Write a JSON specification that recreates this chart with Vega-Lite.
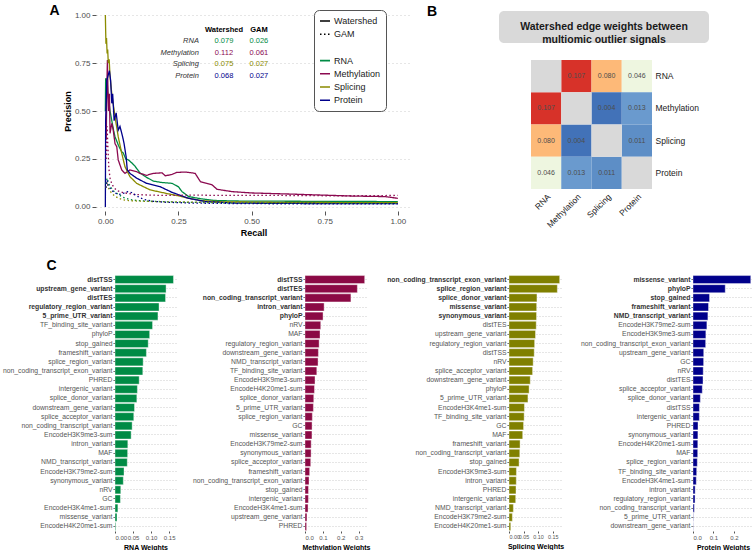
{
"$schema": "https://vega.github.io/schema/vega-lite/v6.json",
"padding": {"left": 1, "top": 3, "right": 0, "bottom": 0},
"config": {"font": "Liberation Sans", "view": {"stroke": null}, "title": {"fontSize": 14, "fontWeight": "bold", "color": "#000000"}},
"datasets": {
"curves": [
{"signal":"RNA","method":"Watershed","recall":0.0,"precision":0.5},{"signal":"RNA","method":"Watershed","recall":0.001,"precision":0.667},{"signal":"RNA","method":"Watershed","recall":0.006,"precision":0.667},{"signal":"RNA","method":"Watershed","recall":0.008,"precision":0.6},{"signal":"RNA","method":"Watershed","recall":0.012,"precision":0.55},{"signal":"RNA","method":"Watershed","recall":0.016,"precision":0.5},{"signal":"RNA","method":"Watershed","recall":0.022,"precision":0.45},{"signal":"RNA","method":"Watershed","recall":0.028,"precision":0.4},{"signal":"RNA","method":"Watershed","recall":0.033,"precision":0.366},{"signal":"RNA","method":"Watershed","recall":0.045,"precision":0.32},{"signal":"RNA","method":"Watershed","recall":0.055,"precision":0.29},{"signal":"RNA","method":"Watershed","recall":0.0615,"precision":0.28},{"signal":"RNA","method":"Watershed","recall":0.07,"precision":0.25},{"signal":"RNA","method":"Watershed","recall":0.079,"precision":0.245},{"signal":"RNA","method":"Watershed","recall":0.09,"precision":0.23},{"signal":"RNA","method":"Watershed","recall":0.1,"precision":0.215},{"signal":"RNA","method":"Watershed","recall":0.118,"precision":0.178},{"signal":"RNA","method":"Watershed","recall":0.14,"precision":0.155},{"signal":"RNA","method":"Watershed","recall":0.164,"precision":0.135},{"signal":"RNA","method":"Watershed","recall":0.19,"precision":0.128},{"signal":"RNA","method":"Watershed","recall":0.228,"precision":0.123},{"signal":"RNA","method":"Watershed","recall":0.25,"precision":0.105},{"signal":"RNA","method":"Watershed","recall":0.262,"precision":0.08},{"signal":"RNA","method":"Watershed","recall":0.285,"precision":0.054},{"signal":"RNA","method":"Watershed","recall":0.33,"precision":0.042},{"signal":"RNA","method":"Watershed","recall":0.37,"precision":0.034},{"signal":"RNA","method":"Watershed","recall":0.45,"precision":0.031},{"signal":"RNA","method":"Watershed","recall":0.6,"precision":0.03},{"signal":"RNA","method":"Watershed","recall":0.8,"precision":0.029},{"signal":"RNA","method":"Watershed","recall":1.0,"precision":0.028},
{"signal":"Methylation","method":"Watershed","recall":0.003,"precision":0.35},{"signal":"Methylation","method":"Watershed","recall":0.005,"precision":0.62},{"signal":"Methylation","method":"Watershed","recall":0.007,"precision":0.765},{"signal":"Methylation","method":"Watershed","recall":0.009,"precision":0.6},{"signal":"Methylation","method":"Watershed","recall":0.011,"precision":0.5},{"signal":"Methylation","method":"Watershed","recall":0.014,"precision":0.59},{"signal":"Methylation","method":"Watershed","recall":0.016,"precision":0.384},{"signal":"Methylation","method":"Watershed","recall":0.022,"precision":0.436},{"signal":"Methylation","method":"Watershed","recall":0.027,"precision":0.4},{"signal":"Methylation","method":"Watershed","recall":0.033,"precision":0.33},{"signal":"Methylation","method":"Watershed","recall":0.039,"precision":0.314},{"signal":"Methylation","method":"Watershed","recall":0.044,"precision":0.245},{"signal":"Methylation","method":"Watershed","recall":0.056,"precision":0.193},{"signal":"Methylation","method":"Watershed","recall":0.067,"precision":0.175},{"signal":"Methylation","method":"Watershed","recall":0.084,"precision":0.193},{"signal":"Methylation","method":"Watershed","recall":0.107,"precision":0.184},{"signal":"Methylation","method":"Watershed","recall":0.118,"precision":0.175},{"signal":"Methylation","method":"Watershed","recall":0.141,"precision":0.165},{"signal":"Methylation","method":"Watershed","recall":0.164,"precision":0.175},{"signal":"Methylation","method":"Watershed","recall":0.194,"precision":0.178},{"signal":"Methylation","method":"Watershed","recall":0.205,"precision":0.162},{"signal":"Methylation","method":"Watershed","recall":0.228,"precision":0.17},{"signal":"Methylation","method":"Watershed","recall":0.244,"precision":0.18},{"signal":"Methylation","method":"Watershed","recall":0.273,"precision":0.182},{"signal":"Methylation","method":"Watershed","recall":0.295,"precision":0.178},{"signal":"Methylation","method":"Watershed","recall":0.307,"precision":0.175},{"signal":"Methylation","method":"Watershed","recall":0.325,"precision":0.132},{"signal":"Methylation","method":"Watershed","recall":0.365,"precision":0.115},{"signal":"Methylation","method":"Watershed","recall":0.382,"precision":0.092},{"signal":"Methylation","method":"Watershed","recall":0.433,"precision":0.08},{"signal":"Methylation","method":"Watershed","recall":0.5,"precision":0.073},{"signal":"Methylation","method":"Watershed","recall":0.615,"precision":0.068},{"signal":"Methylation","method":"Watershed","recall":0.73,"precision":0.0625},{"signal":"Methylation","method":"Watershed","recall":0.843,"precision":0.057},{"signal":"Methylation","method":"Watershed","recall":0.957,"precision":0.054},{"signal":"Methylation","method":"Watershed","recall":1.0,"precision":0.045},
{"signal":"Splicing","method":"Watershed","recall":0.0,"precision":1.0},{"signal":"Splicing","method":"Watershed","recall":0.001,"precision":0.92},{"signal":"Splicing","method":"Watershed","recall":0.002,"precision":0.85},{"signal":"Splicing","method":"Watershed","recall":0.004,"precision":0.88},{"signal":"Splicing","method":"Watershed","recall":0.006,"precision":0.8},{"signal":"Splicing","method":"Watershed","recall":0.008,"precision":0.82},{"signal":"Splicing","method":"Watershed","recall":0.01,"precision":0.75},{"signal":"Splicing","method":"Watershed","recall":0.013,"precision":0.77},{"signal":"Splicing","method":"Watershed","recall":0.016,"precision":0.68},{"signal":"Splicing","method":"Watershed","recall":0.022,"precision":0.59},{"signal":"Splicing","method":"Watershed","recall":0.033,"precision":0.47},{"signal":"Splicing","method":"Watershed","recall":0.044,"precision":0.366},{"signal":"Splicing","method":"Watershed","recall":0.056,"precision":0.28},{"signal":"Splicing","method":"Watershed","recall":0.067,"precision":0.21},{"signal":"Splicing","method":"Watershed","recall":0.084,"precision":0.158},{"signal":"Splicing","method":"Watershed","recall":0.107,"precision":0.123},{"signal":"Splicing","method":"Watershed","recall":0.153,"precision":0.089},{"signal":"Splicing","method":"Watershed","recall":0.21,"precision":0.07},{"signal":"Splicing","method":"Watershed","recall":0.25,"precision":0.058},{"signal":"Splicing","method":"Watershed","recall":0.285,"precision":0.045},{"signal":"Splicing","method":"Watershed","recall":0.33,"precision":0.033},{"signal":"Splicing","method":"Watershed","recall":0.4,"precision":0.027},{"signal":"Splicing","method":"Watershed","recall":0.6,"precision":0.024},{"signal":"Splicing","method":"Watershed","recall":1.0,"precision":0.022},
{"signal":"Protein","method":"Watershed","recall":0.0,"precision":0.0},{"signal":"Protein","method":"Watershed","recall":0.001,"precision":0.45},{"signal":"Protein","method":"Watershed","recall":0.005,"precision":0.66},{"signal":"Protein","method":"Watershed","recall":0.014,"precision":0.71},{"signal":"Protein","method":"Watershed","recall":0.018,"precision":0.66},{"signal":"Protein","method":"Watershed","recall":0.022,"precision":0.54},{"signal":"Protein","method":"Watershed","recall":0.025,"precision":0.59},{"signal":"Protein","method":"Watershed","recall":0.03,"precision":0.45},{"signal":"Protein","method":"Watershed","recall":0.037,"precision":0.49},{"signal":"Protein","method":"Watershed","recall":0.044,"precision":0.4},{"signal":"Protein","method":"Watershed","recall":0.05,"precision":0.42},{"signal":"Protein","method":"Watershed","recall":0.059,"precision":0.366},{"signal":"Protein","method":"Watershed","recall":0.064,"precision":0.33},{"signal":"Protein","method":"Watershed","recall":0.071,"precision":0.262},{"signal":"Protein","method":"Watershed","recall":0.075,"precision":0.193},{"signal":"Protein","method":"Watershed","recall":0.084,"precision":0.175},{"signal":"Protein","method":"Watershed","recall":0.107,"precision":0.15},{"signal":"Protein","method":"Watershed","recall":0.141,"precision":0.123},{"signal":"Protein","method":"Watershed","recall":0.187,"precision":0.106},{"signal":"Protein","method":"Watershed","recall":0.228,"precision":0.076},{"signal":"Protein","method":"Watershed","recall":0.285,"precision":0.045},{"signal":"Protein","method":"Watershed","recall":0.342,"precision":0.028},{"signal":"Protein","method":"Watershed","recall":0.45,"precision":0.02},{"signal":"Protein","method":"Watershed","recall":0.7,"precision":0.018},{"signal":"Protein","method":"Watershed","recall":1.0,"precision":0.017},
{"signal":"RNA","method":"GAM","recall":0.002,"precision":0.12},{"signal":"RNA","method":"GAM","recall":0.006,"precision":0.15},{"signal":"RNA","method":"GAM","recall":0.012,"precision":0.12},{"signal":"RNA","method":"GAM","recall":0.02,"precision":0.1},{"signal":"RNA","method":"GAM","recall":0.03,"precision":0.08},{"signal":"RNA","method":"GAM","recall":0.045,"precision":0.065},{"signal":"RNA","method":"GAM","recall":0.06,"precision":0.05},{"signal":"RNA","method":"GAM","recall":0.08,"precision":0.04},{"signal":"RNA","method":"GAM","recall":0.1,"precision":0.035},{"signal":"RNA","method":"GAM","recall":0.15,"precision":0.03},{"signal":"RNA","method":"GAM","recall":0.25,"precision":0.025},{"signal":"RNA","method":"GAM","recall":0.4,"precision":0.022},{"signal":"RNA","method":"GAM","recall":0.6,"precision":0.02},{"signal":"RNA","method":"GAM","recall":1.0,"precision":0.019},
{"signal":"Methylation","method":"GAM","recall":0.003,"precision":0.25},{"signal":"Methylation","method":"GAM","recall":0.006,"precision":0.42},{"signal":"Methylation","method":"GAM","recall":0.009,"precision":0.3},{"signal":"Methylation","method":"GAM","recall":0.012,"precision":0.2},{"signal":"Methylation","method":"GAM","recall":0.016,"precision":0.15},{"signal":"Methylation","method":"GAM","recall":0.022,"precision":0.12},{"signal":"Methylation","method":"GAM","recall":0.03,"precision":0.1},{"signal":"Methylation","method":"GAM","recall":0.04,"precision":0.085},{"signal":"Methylation","method":"GAM","recall":0.06,"precision":0.075},{"signal":"Methylation","method":"GAM","recall":0.08,"precision":0.07},{"signal":"Methylation","method":"GAM","recall":0.1,"precision":0.065},{"signal":"Methylation","method":"GAM","recall":0.15,"precision":0.062},{"signal":"Methylation","method":"GAM","recall":0.2,"precision":0.06},{"signal":"Methylation","method":"GAM","recall":0.3,"precision":0.062},{"signal":"Methylation","method":"GAM","recall":0.4,"precision":0.06},{"signal":"Methylation","method":"GAM","recall":0.6,"precision":0.06},{"signal":"Methylation","method":"GAM","recall":0.8,"precision":0.058},{"signal":"Methylation","method":"GAM","recall":1.0,"precision":0.06},
{"signal":"Splicing","method":"GAM","recall":0.002,"precision":0.1},{"signal":"Splicing","method":"GAM","recall":0.006,"precision":0.13},{"signal":"Splicing","method":"GAM","recall":0.01,"precision":0.1},{"signal":"Splicing","method":"GAM","recall":0.02,"precision":0.075},{"signal":"Splicing","method":"GAM","recall":0.03,"precision":0.06},{"signal":"Splicing","method":"GAM","recall":0.045,"precision":0.045},{"signal":"Splicing","method":"GAM","recall":0.06,"precision":0.038},{"signal":"Splicing","method":"GAM","recall":0.08,"precision":0.033},{"signal":"Splicing","method":"GAM","recall":0.12,"precision":0.03},{"signal":"Splicing","method":"GAM","recall":0.2,"precision":0.027},{"signal":"Splicing","method":"GAM","recall":0.4,"precision":0.024},{"signal":"Splicing","method":"GAM","recall":0.7,"precision":0.022},{"signal":"Splicing","method":"GAM","recall":1.0,"precision":0.021},
{"signal":"Protein","method":"GAM","recall":0.002,"precision":0.1},{"signal":"Protein","method":"GAM","recall":0.006,"precision":0.14},{"signal":"Protein","method":"GAM","recall":0.01,"precision":0.11},{"signal":"Protein","method":"GAM","recall":0.02,"precision":0.09},{"signal":"Protein","method":"GAM","recall":0.03,"precision":0.075},{"signal":"Protein","method":"GAM","recall":0.045,"precision":0.065},{"signal":"Protein","method":"GAM","recall":0.06,"precision":0.07},{"signal":"Protein","method":"GAM","recall":0.075,"precision":0.08},{"signal":"Protein","method":"GAM","recall":0.09,"precision":0.075},{"signal":"Protein","method":"GAM","recall":0.11,"precision":0.055},{"signal":"Protein","method":"GAM","recall":0.13,"precision":0.04},{"signal":"Protein","method":"GAM","recall":0.16,"precision":0.03},{"signal":"Protein","method":"GAM","recall":0.2,"precision":0.025},{"signal":"Protein","method":"GAM","recall":0.3,"precision":0.02},{"signal":"Protein","method":"GAM","recall":0.5,"precision":0.017},{"signal":"Protein","method":"GAM","recall":1.0,"precision":0.016}
],
"table": [
{"signal":"RNA","ws":"0.079","gam":"0.026"},
{"signal":"Methylation","ws":"0.112","gam":"0.061"},
{"signal":"Splicing","ws":"0.075","gam":"0.027"},
{"signal":"Protein","ws":"0.068","gam":"0.027"}
],
"heat": [
{"row":"RNA","col":"RNA","weight":null},{"row":"RNA","col":"Methylation","weight":0.107},{"row":"RNA","col":"Splicing","weight":0.080},{"row":"RNA","col":"Protein","weight":0.046},
{"row":"Methylation","col":"RNA","weight":0.107},{"row":"Methylation","col":"Methylation","weight":null},{"row":"Methylation","col":"Splicing","weight":0.004},{"row":"Methylation","col":"Protein","weight":0.013},
{"row":"Splicing","col":"RNA","weight":0.080},{"row":"Splicing","col":"Methylation","weight":0.004},{"row":"Splicing","col":"Splicing","weight":null},{"row":"Splicing","col":"Protein","weight":0.011},
{"row":"Protein","col":"RNA","weight":0.046},{"row":"Protein","col":"Methylation","weight":0.013},{"row":"Protein","col":"Splicing","weight":0.011},{"row":"Protein","col":"Protein","weight":null}
],
"weights": [
{"signal":"RNA","feature":"distTSS","weight":0.162},{"signal":"RNA","feature":"upstream_gene_variant","weight":0.1415},{"signal":"RNA","feature":"distTES","weight":0.14},{"signal":"RNA","feature":"regulatory_region_variant","weight":0.122},{"signal":"RNA","feature":"5_prime_UTR_variant","weight":0.119},{"signal":"RNA","feature":"TF_binding_site_variant","weight":0.104},{"signal":"RNA","feature":"phyloP","weight":0.096},{"signal":"RNA","feature":"stop_gained","weight":0.092},{"signal":"RNA","feature":"frameshift_variant","weight":0.087},{"signal":"RNA","feature":"splice_region_variant","weight":0.078},{"signal":"RNA","feature":"non_coding_transcript_exon_variant","weight":0.077},{"signal":"RNA","feature":"PHRED","weight":0.067},{"signal":"RNA","feature":"intergenic_variant","weight":0.062},{"signal":"RNA","feature":"splice_donor_variant","weight":0.0605},{"signal":"RNA","feature":"downstream_gene_variant","weight":0.054},{"signal":"RNA","feature":"splice_acceptor_variant","weight":0.052},{"signal":"RNA","feature":"non_coding_transcript_variant","weight":0.0475},{"signal":"RNA","feature":"EncodeH3K9me3-sum","weight":0.0447},{"signal":"RNA","feature":"intron_variant","weight":0.0355},{"signal":"RNA","feature":"MAF","weight":0.035},{"signal":"RNA","feature":"NMD_transcript_variant","weight":0.034},{"signal":"RNA","feature":"EncodeH3K79me2-sum","weight":0.025},{"signal":"RNA","feature":"synonymous_variant","weight":0.023},{"signal":"RNA","feature":"nRV","weight":0.016},{"signal":"RNA","feature":"GC","weight":0.015},{"signal":"RNA","feature":"EncodeH3K4me1-sum","weight":0.008},{"signal":"RNA","feature":"missense_variant","weight":0.0056},{"signal":"RNA","feature":"EncodeH4K20me1-sum","weight":0.002},
{"signal":"Methylation","feature":"distTSS","weight":0.334},{"signal":"Methylation","feature":"distTES","weight":0.293},{"signal":"Methylation","feature":"non_coding_transcript_variant","weight":0.257},{"signal":"Methylation","feature":"intron_variant","weight":0.107},{"signal":"Methylation","feature":"phyloP","weight":0.101},{"signal":"Methylation","feature":"nRV","weight":0.088},{"signal":"Methylation","feature":"MAF","weight":0.084},{"signal":"Methylation","feature":"regulatory_region_variant","weight":0.079},{"signal":"Methylation","feature":"downstream_gene_variant","weight":0.075},{"signal":"Methylation","feature":"NMD_transcript_variant","weight":0.073},{"signal":"Methylation","feature":"TF_binding_site_variant","weight":0.066},{"signal":"Methylation","feature":"EncodeH3K9me3-sum","weight":0.056},{"signal":"Methylation","feature":"EncodeH4K20me1-sum","weight":0.053},{"signal":"Methylation","feature":"splice_donor_variant","weight":0.049},{"signal":"Methylation","feature":"5_prime_UTR_variant","weight":0.047},{"signal":"Methylation","feature":"splice_region_variant","weight":0.041},{"signal":"Methylation","feature":"GC","weight":0.0395},{"signal":"Methylation","feature":"missense_variant","weight":0.039},{"signal":"Methylation","feature":"EncodeH3K79me2-sum","weight":0.0345},{"signal":"Methylation","feature":"synonymous_variant","weight":0.034},{"signal":"Methylation","feature":"splice_acceptor_variant","weight":0.032},{"signal":"Methylation","feature":"frameshift_variant","weight":0.026},{"signal":"Methylation","feature":"non_coding_transcript_exon_variant","weight":0.0225},{"signal":"Methylation","feature":"stop_gained","weight":0.0195},{"signal":"Methylation","feature":"intergenic_variant","weight":0.019},{"signal":"Methylation","feature":"EncodeH3K4me1-sum","weight":0.017},{"signal":"Methylation","feature":"upstream_gene_variant","weight":0.011},{"signal":"Methylation","feature":"PHRED","weight":0.009},
{"signal":"Splicing","feature":"non_coding_transcript_exon_variant","weight":0.174},{"signal":"Splicing","feature":"splice_region_variant","weight":0.166},{"signal":"Splicing","feature":"splice_donor_variant","weight":0.096},{"signal":"Splicing","feature":"missense_variant","weight":0.095},{"signal":"Splicing","feature":"synonymous_variant","weight":0.0945},{"signal":"Splicing","feature":"distTES","weight":0.0935},{"signal":"Splicing","feature":"upstream_gene_variant","weight":0.091},{"signal":"Splicing","feature":"regulatory_region_variant","weight":0.088},{"signal":"Splicing","feature":"distTSS","weight":0.0866},{"signal":"Splicing","feature":"nRV","weight":0.083},{"signal":"Splicing","feature":"splice_acceptor_variant","weight":0.081},{"signal":"Splicing","feature":"downstream_gene_variant","weight":0.073},{"signal":"Splicing","feature":"phyloP","weight":0.069},{"signal":"Splicing","feature":"5_prime_UTR_variant","weight":0.065},{"signal":"Splicing","feature":"EncodeH3K4me1-sum","weight":0.053},{"signal":"Splicing","feature":"TF_binding_site_variant","weight":0.052},{"signal":"Splicing","feature":"GC","weight":0.05},{"signal":"Splicing","feature":"MAF","weight":0.047},{"signal":"Splicing","feature":"frameshift_variant","weight":0.038},{"signal":"Splicing","feature":"non_coding_transcript_variant","weight":0.037},{"signal":"Splicing","feature":"stop_gained","weight":0.0346},{"signal":"Splicing","feature":"EncodeH3K9me3-sum","weight":0.0255},{"signal":"Splicing","feature":"intron_variant","weight":0.025},{"signal":"Splicing","feature":"PHRED","weight":0.024},{"signal":"Splicing","feature":"intergenic_variant","weight":0.023},{"signal":"Splicing","feature":"NMD_transcript_variant","weight":0.015},{"signal":"Splicing","feature":"EncodeH3K79me2-sum","weight":0.0115},{"signal":"Splicing","feature":"EncodeH4K20me1-sum","weight":0.006},
{"signal":"Protein","feature":"missense_variant","weight":0.283},{"signal":"Protein","feature":"phyloP","weight":0.158},{"signal":"Protein","feature":"stop_gained","weight":0.081},{"signal":"Protein","feature":"frameshift_variant","weight":0.076},{"signal":"Protein","feature":"NMD_transcript_variant","weight":0.073},{"signal":"Protein","feature":"EncodeH3K79me2-sum","weight":0.068},{"signal":"Protein","feature":"EncodeH3K9me3-sum","weight":0.063},{"signal":"Protein","feature":"non_coding_transcript_exon_variant","weight":0.062},{"signal":"Protein","feature":"upstream_gene_variant","weight":0.0525},{"signal":"Protein","feature":"GC","weight":0.052},{"signal":"Protein","feature":"nRV","weight":0.05},{"signal":"Protein","feature":"distTES","weight":0.049},{"signal":"Protein","feature":"splice_acceptor_variant","weight":0.0455},{"signal":"Protein","feature":"splice_donor_variant","weight":0.036},{"signal":"Protein","feature":"distTSS","weight":0.0315},{"signal":"Protein","feature":"intergenic_variant","weight":0.031},{"signal":"Protein","feature":"PHRED","weight":0.0245},{"signal":"Protein","feature":"synonymous_variant","weight":0.024},{"signal":"Protein","feature":"EncodeH4K20me1-sum","weight":0.0235},{"signal":"Protein","feature":"MAF","weight":0.023},{"signal":"Protein","feature":"splice_region_variant","weight":0.021},{"signal":"Protein","feature":"TF_binding_site_variant","weight":0.018},{"signal":"Protein","feature":"EncodeH3K4me1-sum","weight":0.016},{"signal":"Protein","feature":"intron_variant","weight":0.0105},{"signal":"Protein","feature":"regulatory_region_variant","weight":0.01},{"signal":"Protein","feature":"non_coding_transcript_variant","weight":0.0065},{"signal":"Protein","feature":"5_prime_UTR_variant","weight":0.0016},{"signal":"Protein","feature":"downstream_gene_variant","weight":0.001}
]
},
"concat": [
{
"hconcat": [
{"width": 32, "height": 10, "data": {"values": []}, "mark": "point", "encoding": {}},
{
"title": {"text": "A", "anchor": "start", "frame": "bounds", "offset": -8, "dx": -14},
"width": 315, "height": 200,
"layer": [
{"data": {"name": "curves"},
 "mark": {"type": "line", "strokeWidth": 1.3},
 "encoding": {
  "x": {"field": "recall", "type": "quantitative", "scale": {"domain": [-0.032, 1.045], "nice": false, "zero": false},
        "axis": {"title": "Recall", "values": [0, 0.25, 0.5, 0.75, 1], "format": ".2f", "grid": false, "domain": false, "tickSize": 4, "tickColor": "#555555", "labelFontSize": 8, "labelColor": "#4d4d4d", "labelPadding": 2, "labelOverlap": false, "titleFontSize": 9, "titleFontWeight": "bold", "titleColor": "#000000", "titlePadding": 3}},
  "y": {"field": "precision", "type": "quantitative", "scale": {"domain": [-0.021, 1.021], "nice": false, "zero": false},
        "axis": {"title": "Precision", "values": [0, 0.25, 0.5, 0.75, 1], "format": ".2f", "grid": true, "gridDash": [1, 3], "gridColor": "#cccccc", "domain": false, "tickSize": 4, "tickColor": "#555555", "labelFontSize": 8, "labelColor": "#4d4d4d", "labelPadding": 2, "labelOverlap": false, "titleFontSize": 9, "titleFontWeight": "bold", "titleColor": "#000000", "titlePadding": 2}},
  "color": {"field": "signal", "type": "nominal", "scale": {"domain": ["Watershed", "GAM", " ", "RNA", "Methylation", "Splicing", "Protein"], "range": ["#000000", "#000000", "#ffffff", "#008B45", "#8B0A50", "#8B8B00", "#00008B"]},
        "legend": {"orient": "none", "legendX": 218, "legendY": -1, "title": null, "symbolType": "stroke", "symbolSize": 100, "symbolStrokeWidth": 1.6, "labelFontSize": 9, "labelColor": "#1a1a1a", "labelOffset": 3, "fillColor": "#ffffff", "strokeColor": "#555555", "cornerRadius": 5, "padding": 5, "rowPadding": 2.2}},
  "strokeDash": {"field": "method", "type": "nominal", "scale": {"domain": ["Watershed", "GAM", " ", "RNA", "Methylation", "Splicing", "Protein"], "range": [[1, 0], [1.5, 2.5], [1, 0], [1, 0], [1, 0], [1, 0], [1, 0]]},
        "legend": {"orient": "none", "legendX": 218, "legendY": -1, "title": null, "symbolType": "stroke", "symbolSize": 100, "symbolStrokeWidth": 1.6, "labelFontSize": 9, "labelColor": "#1a1a1a", "labelOffset": 3, "fillColor": "#ffffff", "strokeColor": "#555555", "cornerRadius": 5, "padding": 5, "rowPadding": 2.2}}
 }},
{"data": {"name": "table"},
 "mark": {"type": "text", "align": "right", "baseline": "middle", "fontStyle": "italic", "fontSize": 7.5, "color": "#333333"},
 "encoding": {
  "x": {"datum": 0.32, "type": "quantitative"},
  "y": {"field": "signal", "type": "nominal", "scale": {"type": "point", "domain": ["_0", "Header", "RNA", "Methylation", "Splicing", "Protein", "_1", "_2", "_3", "_4", "_5", "_6", "_7", "_8", "_9", "_10", "_11"], "padding": 0.6}, "axis": null},
  "text": {"field": "signal"}
 }},
{"data": {"name": "table"},
 "mark": {"type": "text", "align": "center", "baseline": "middle", "fontSize": 7.5},
 "encoding": {
  "x": {"datum": 0.4055, "type": "quantitative"},
  "y": {"field": "signal", "type": "nominal", "scale": {"type": "point", "domain": ["_0", "Header", "RNA", "Methylation", "Splicing", "Protein", "_1", "_2", "_3", "_4", "_5", "_6", "_7", "_8", "_9", "_10", "_11"], "padding": 0.6}, "axis": null},
  "text": {"field": "ws"},
  "color": {"field": "signal", "type": "nominal"}
 }},
{"data": {"name": "table"},
 "mark": {"type": "text", "align": "center", "baseline": "middle", "fontSize": 7.5},
 "encoding": {
  "x": {"datum": 0.525, "type": "quantitative"},
  "y": {"field": "signal", "type": "nominal", "scale": {"type": "point", "domain": ["_0", "Header", "RNA", "Methylation", "Splicing", "Protein", "_1", "_2", "_3", "_4", "_5", "_6", "_7", "_8", "_9", "_10", "_11"], "padding": 0.6}, "axis": null},
  "text": {"field": "gam"},
  "color": {"field": "signal", "type": "nominal"}
 }},
{"data": {"values": [{"h": "Watershed"}]},
 "mark": {"type": "text", "align": "center", "baseline": "middle", "fontSize": 7.5, "fontWeight": "bold", "color": "#000000"},
 "encoding": {
  "x": {"datum": 0.4055, "type": "quantitative"},
  "y": {"datum": "Header", "type": "nominal", "scale": {"type": "point", "domain": ["_0", "Header", "RNA", "Methylation", "Splicing", "Protein", "_1", "_2", "_3", "_4", "_5", "_6", "_7", "_8", "_9", "_10", "_11"], "padding": 0.6}, "axis": null},
  "text": {"field": "h"}
 }},
{"data": {"values": [{"h": "GAM"}]},
 "mark": {"type": "text", "align": "center", "baseline": "middle", "fontSize": 7.5, "fontWeight": "bold", "color": "#000000"},
 "encoding": {
  "x": {"datum": 0.525, "type": "quantitative"},
  "y": {"datum": "Header", "type": "nominal", "scale": {"type": "point", "domain": ["_0", "Header", "RNA", "Methylation", "Splicing", "Protein", "_1", "_2", "_3", "_4", "_5", "_6", "_7", "_8", "_9", "_10", "_11"], "padding": 0.6}, "axis": null},
  "text": {"field": "h"}
 }}
],
"resolve": {"scale": {"y": "independent"}}
},
{
"vconcat": [
{"title": {"text": "B", "anchor": "start", "frame": "bounds", "offset": -8, "dx": -72},
 "width": 210, "height": 32, "view": {"fill": "#D9D9D9", "cornerRadius": 5, "stroke": null},
 "data": {"values": [{}]},
 "mark": {"type": "text", "text": ["Watershed edge weights between", "multiomic outlier signals"], "fontSize": 10.5, "fontWeight": "bold", "lineHeight": 13, "baseline": "middle", "align": "center", "color": "#1a1a1a"},
 "encoding": {}},
{"width": 210, "height": 129,
 "data": {"name": "heat"},
 "encoding": {
  "x": {"field": "col", "type": "nominal", "sort": ["RNA", "Methylation", "Splicing", "Protein"], "scale": {"paddingInner": 0, "paddingOuter": 0, "range": [32, 153]},
        "axis": {"title": null, "labelAngle": -45, "labelAlign": "right", "labelBaseline": "top", "ticks": false, "domain": false, "labelFontSize": 8.5, "labelColor": "#1a1a1a", "labelPadding": 3}},
  "y": {"field": "row", "type": "nominal", "sort": ["RNA", "Methylation", "Splicing", "Protein"], "scale": {"paddingInner": 0, "paddingOuter": 0},
        "axis": {"title": null, "orient": "right", "offset": -57, "ticks": false, "domain": false, "labelFontSize": 8.5, "labelColor": "#1a1a1a", "labelPadding": 3}}
 },
 "layer": [
  {"transform": [{"filter": "datum.weight != null"}], "mark": "rect",
   "encoding": {"color": {"field": "weight", "type": "quantitative", "scale": {"domain": [0.004, 0.011, 0.013, 0.046, 0.08, 0.107], "range": ["#4272B8", "#5D8EC6", "#6A9ACE", "#EEF6E0", "#FDB978", "#D73229"]}, "legend": null}}},
  {"transform": [{"filter": "datum.weight == null"}], "mark": {"type": "rect", "color": "#D9D9D9"}},
  {"transform": [{"filter": "datum.weight != null"}], "mark": {"type": "text", "fontSize": 7, "color": "#4d4d4d"},
   "encoding": {"text": {"field": "weight", "format": ".3f"}}}
 ]}
],
"spacing": 14,
"resolve": {"scale": {"x": "independent", "y": "independent"}}
}
],
"spacing": 16,
"resolve": {"scale": {"x": "independent", "y": "independent", "color": "independent", "strokeDash": "independent"}}
},
{
"hconcat": [
{"width": 1, "height": 10, "data": {"values": []}, "mark": "point", "encoding": {}},
{
"title": {"text": "C", "anchor": "start", "frame": "bounds", "dx": 44, "offset": 2},
"hconcat": [
{"width": 61, "height": 256, "data": {"name": "weights"}, "transform": [{"filter": "datum.signal == 'RNA'"}],
 "mark": {"type": "bar", "color": "#008B45", "stroke": "#ffffff", "strokeWidth": 0.4},
 "encoding": {
  "y": {"field": "feature", "type": "nominal", "sort": "-x", "scale": {"paddingInner": 0.12, "paddingOuter": 0.06},
        "axis": {"title": null, "grid": true, "gridDash": [1, 2], "gridColor": "#cccccc", "bandPosition": 0.5, "domain": false, "tickSize": 2, "tickColor": "#555555", "labelPadding": 1, "labelFontSize": 6.8,
                 "labelFontWeight": {"condition": {"test": "indexof(['distTSS','upstream_gene_variant','distTES','regulatory_region_variant','5_prime_UTR_variant'], datum.value) >= 0", "value": "bold"}, "value": "normal"},
                 "labelColor": {"condition": {"test": "indexof(['distTSS','upstream_gene_variant','distTES','regulatory_region_variant','5_prime_UTR_variant'], datum.value) >= 0", "value": "#333333"}, "value": "#555555"}}},
  "x": {"field": "weight", "type": "quantitative", "scale": {"domain": [0, 0.169], "nice": false},
        "axis": {"title": "RNA Weights", "values": [0, 0.05, 0.1, 0.15], "format": ".2f", "grid": false, "domain": false, "tickSize": 2, "tickColor": "#555555", "labelFontSize": 6, "labelColor": "#555555", "labelPadding": 1, "labelOverlap": false, "titleFontSize": 7, "titleFontWeight": "bold", "titleColor": "#000000", "titlePadding": 3}}
 }},
{"width": 62, "height": 256, "data": {"name": "weights"}, "transform": [{"filter": "datum.signal == 'Methylation'"}],
 "mark": {"type": "bar", "color": "#8B0A45", "stroke": "#ffffff", "strokeWidth": 0.4},
 "encoding": {
  "y": {"field": "feature", "type": "nominal", "sort": "-x", "scale": {"paddingInner": 0.12, "paddingOuter": 0.06},
        "axis": {"title": null, "grid": true, "gridDash": [1, 2], "gridColor": "#cccccc", "bandPosition": 0.5, "domain": false, "tickSize": 2, "tickColor": "#555555", "labelPadding": 1, "labelFontSize": 6.8,
                 "labelFontWeight": {"condition": {"test": "indexof(['distTSS','distTES','non_coding_transcript_variant','intron_variant','phyloP'], datum.value) >= 0", "value": "bold"}, "value": "normal"},
                 "labelColor": {"condition": {"test": "indexof(['distTSS','distTES','non_coding_transcript_variant','intron_variant','phyloP'], datum.value) >= 0", "value": "#333333"}, "value": "#555555"}}},
  "x": {"field": "weight", "type": "quantitative", "scale": {"domain": [0, 0.347], "nice": false},
        "axis": {"title": "Methylation Weights", "values": [0, 0.1, 0.2, 0.3], "format": ".1f", "grid": false, "domain": false, "tickSize": 2, "tickColor": "#555555", "labelFontSize": 6, "labelColor": "#555555", "labelPadding": 1, "labelOverlap": false, "titleFontSize": 7, "titleFontWeight": "bold", "titleColor": "#000000", "titlePadding": 3}}
 }},
{"width": 53, "height": 256, "data": {"name": "weights"}, "transform": [{"filter": "datum.signal == 'Splicing'"}],
 "mark": {"type": "bar", "color": "#808000", "stroke": "#ffffff", "strokeWidth": 0.4},
 "encoding": {
  "y": {"field": "feature", "type": "nominal", "sort": "-x", "scale": {"paddingInner": 0.12, "paddingOuter": 0.06},
        "axis": {"title": null, "grid": true, "gridDash": [1, 2], "gridColor": "#cccccc", "bandPosition": 0.5, "domain": false, "tickSize": 2, "tickColor": "#555555", "labelPadding": 1, "labelFontSize": 6.8,
                 "labelFontWeight": {"condition": {"test": "indexof(['non_coding_transcript_exon_variant','splice_region_variant','splice_donor_variant','missense_variant','synonymous_variant'], datum.value) >= 0", "value": "bold"}, "value": "normal"},
                 "labelColor": {"condition": {"test": "indexof(['non_coding_transcript_exon_variant','splice_region_variant','splice_donor_variant','missense_variant','synonymous_variant'], datum.value) >= 0", "value": "#333333"}, "value": "#555555"}}},
  "x": {"field": "weight", "type": "quantitative", "scale": {"domain": [0, 0.182], "nice": false},
        "axis": {"title": "Splicing Weights", "values": [0, 0.05, 0.1, 0.15], "format": ".2f", "grid": false, "domain": false, "tickSize": 2, "tickColor": "#555555", "labelFontSize": 5.4, "labelColor": "#555555", "labelPadding": 1, "labelOverlap": false, "titleFontSize": 7, "titleFontWeight": "bold", "titleColor": "#000000", "titlePadding": 3}}
 }},
{"width": 60, "height": 256, "data": {"name": "weights"}, "transform": [{"filter": "datum.signal == 'Protein'"}],
 "mark": {"type": "bar", "color": "#00008B", "stroke": "#ffffff", "strokeWidth": 0.4},
 "encoding": {
  "y": {"field": "feature", "type": "nominal", "sort": "-x", "scale": {"paddingInner": 0.12, "paddingOuter": 0.06},
        "axis": {"title": null, "grid": true, "gridDash": [1, 2], "gridColor": "#cccccc", "bandPosition": 0.5, "domain": false, "tickSize": 2, "tickColor": "#555555", "labelPadding": 1, "labelFontSize": 6.8,
                 "labelFontWeight": {"condition": {"test": "indexof(['missense_variant','phyloP','stop_gained','frameshift_variant','NMD_transcript_variant'], datum.value) >= 0", "value": "bold"}, "value": "normal"},
                 "labelColor": {"condition": {"test": "indexof(['missense_variant','phyloP','stop_gained','frameshift_variant','NMD_transcript_variant'], datum.value) >= 0", "value": "#333333"}, "value": "#555555"}}},
  "x": {"field": "weight", "type": "quantitative", "scale": {"domain": [0, 0.294], "nice": false},
        "axis": {"title": "Protein Weights", "values": [0, 0.1, 0.2], "format": ".1f", "grid": false, "domain": false, "tickSize": 2, "tickColor": "#555555", "labelFontSize": 6, "labelColor": "#555555", "labelPadding": 1, "labelOverlap": false, "titleFontSize": 7, "titleFontWeight": "bold", "titleColor": "#000000", "titlePadding": 3}}
 }}
],
"spacing": 16,
"resolve": {"scale": {"x": "independent", "y": "independent"}}
}
],
"spacing": 0
}
],
"columns": 1,
"align": "none",
"spacing": {"row": 22, "column": 0},
"resolve": {"scale": {"color": "independent", "strokeDash": "independent"}}
}
